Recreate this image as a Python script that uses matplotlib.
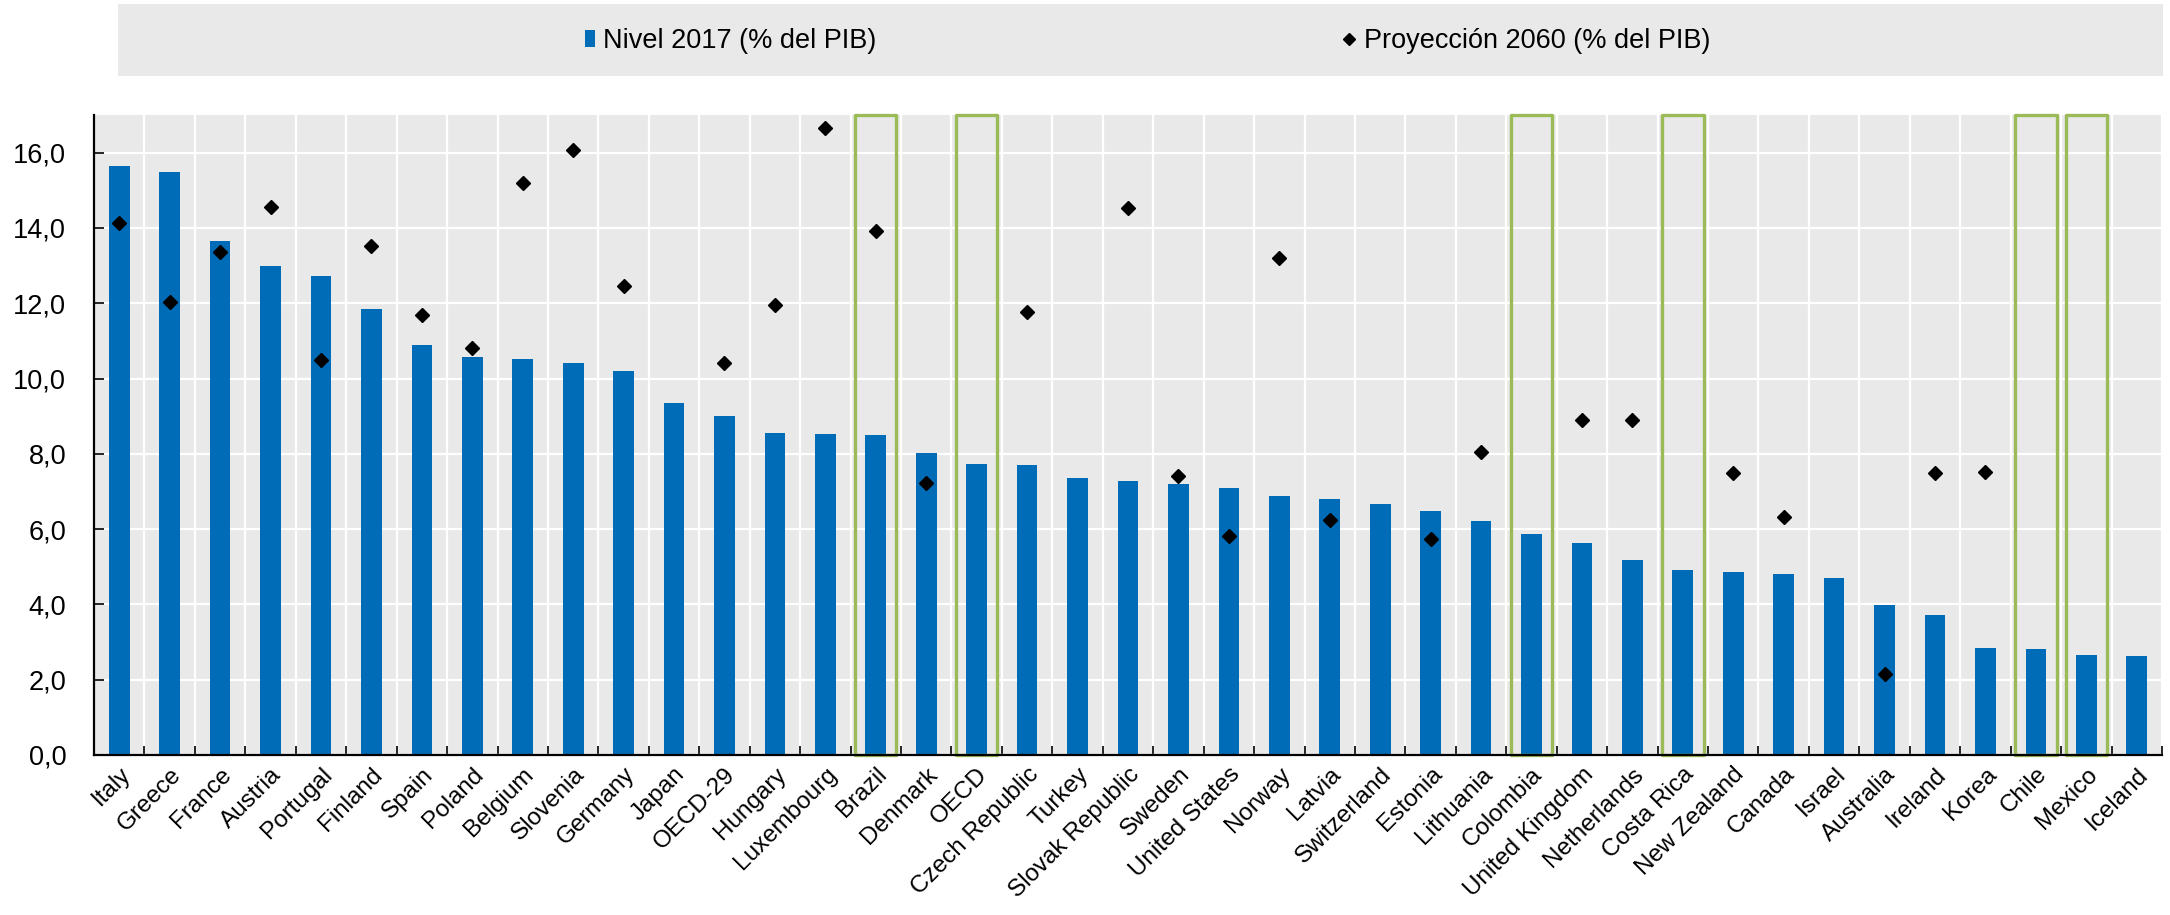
import matplotlib
matplotlib.use("Agg")
from matplotlib import pyplot as plt
from matplotlib.lines import Line2D
from matplotlib.patches import Patch, Rectangle
from matplotlib.ticker import FixedLocator, FuncFormatter

plt.rcParams["font.family"] = ["Liberation Sans", "DejaVu Sans"]

countries = ["Italy", "Greece", "France", "Austria", "Portugal", "Finland", "Spain", "Poland",
             "Belgium", "Slovenia", "Germany", "Japan", "OECD-29", "Hungary", "Luxembourg",
             "Brazil", "Denmark", "OECD", "Czech Republic", "Turkey", "Slovak Republic", "Sweden",
             "United States", "Norway", "Latvia", "Switzerland", "Estonia", "Lithuania", "Colombia",
             "United Kingdom", "Netherlands", "Costa Rica", "New Zealand", "Canada", "Israel",
             "Australia", "Ireland", "Korea", "Chile", "Mexico", "Iceland"]

level_2017 = [15.64, 15.49, 13.65, 12.98, 12.73, 11.84, 10.90, 10.57, 10.51, 10.42, 10.21, 9.36,
              9.00, 8.54, 8.53, 8.50, 8.02, 7.74, 7.70, 7.35, 7.29, 7.19, 7.08, 6.89, 6.81, 6.66,
              6.49, 6.21, 5.88, 5.63, 5.18, 4.91, 4.86, 4.80, 4.70, 3.99, 3.71, 2.84, 2.82, 2.66, 2.64]

# None = no projection shown
proj_2060 = [14.13, 12.04, 13.37, 14.56, 10.49, 13.53, 11.70, 10.82, 15.20, 16.08, 12.47, None,
             10.40, 11.94, 16.66, 13.91, 7.23, None, 11.78, None, 14.54, 7.42, 5.83, 13.20, 6.25,
             None, 5.75, 8.05, None, 8.90, 8.90, None, 7.49, 6.32, None, 2.14, 7.49, 7.51, None,
             None, None]

highlighted = ["Brazil", "OECD", "Colombia", "Costa Rica", "Chile", "Mexico"]

bar_color = "#006BB6"
box_color = "#9BBB59"
bg_color = "#E9E9E9"
fs = 19.5

W, H = 2170, 915
fig = plt.figure(figsize=(W / 100, H / 100), dpi=100)
ax = fig.add_axes([94 / W, 1 - 755 / H, (2162 - 94) / W, (755 - 115) / H])
ax.set_facecolor(bg_color)

x = list(range(len(countries)))
ax.bar(x, level_2017, width=0.41, color=bar_color, zorder=3)

px = [i for i, v in zip(x, proj_2060) if v is not None]
py = [v for v in proj_2060 if v is not None]
ax.plot(px, py, linestyle="none", marker="D", markersize=6.8, color="black", zorder=4)

for name in highlighted:
    i = countries.index(name)
    ax.add_patch(Rectangle((i - 0.41, 0), 0.82, 17, fill=False, edgecolor=box_color,
                           linewidth=2.4, joinstyle="round", clip_on=False, zorder=5))

ax.set_xlim(-0.5, len(countries) - 0.5)
ax.set_ylim(0, 17)
ax.set_yticks([0, 2, 4, 6, 8, 10, 12, 14, 16])
ax.yaxis.set_major_formatter(FuncFormatter(lambda v, _: f"{v:.1f}".replace(".", ",")))
ax.tick_params(axis="y", direction="in", length=7, width=1.2, pad=20, labelsize=fs)

ax.set_xticks(x)
ax.set_xticklabels(countries, rotation=45, ha="right", va="top", rotation_mode="anchor", fontsize=17.5)
ax.xaxis.set_minor_locator(FixedLocator([i + 0.5 for i in x]))
ax.tick_params(axis="x", which="major", length=0, pad=6)
ax.tick_params(axis="x", which="minor", direction="in", length=6.5, width=1.2, color="black")

ax.grid(True, axis="y", color="white", linewidth=1.6, zorder=0)
ax.grid(True, axis="x", which="minor", color="white", linewidth=1.6, zorder=0)
ax.set_axisbelow(True)

for side in ("top", "right"):
    ax.spines[side].set_visible(False)
for side in ("left", "bottom"):
    ax.spines[side].set_linewidth(1.6)
    ax.spines[side].set_color("black")
    ax.spines[side].set_zorder(6)

# legend band across the top
fig.patches.append(Rectangle((118 / W, 1 - 76 / H), (2163 - 118) / W, 72 / H,
                             transform=fig.transFigure, facecolor=bg_color, edgecolor="none"))
leg_y = 1 - 41 / H
h1 = Patch(facecolor=bar_color, edgecolor="none")
h2 = Line2D([], [], linestyle="none", marker="D", markersize=6.5, color="black")
fig.legend([h1], ["Nivel 2017 (% del PIB)"], loc="center left", bbox_to_anchor=(585 / W, leg_y),
           frameon=False, fontsize=fs, handlelength=0.37, handleheight=0.62, handletextpad=0.3,
           borderpad=0, borderaxespad=0)
fig.legend([h2], ["Proyección 2060 (% del PIB)"], loc="center left", bbox_to_anchor=(1340 / W, leg_y),
           frameon=False, fontsize=fs, handlelength=0.65, handletextpad=0.25,
           borderpad=0, borderaxespad=0)

fig.savefig("out.png", dpi=100)
